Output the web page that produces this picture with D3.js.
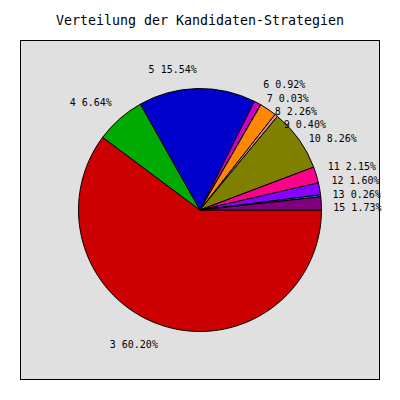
<!DOCTYPE html>
<html>
<head>
<meta charset="utf-8">
<script src="https://cdn.jsdelivr.net/npm/d3@7"></script>
<style>
  html, body { margin: 0; padding: 0; background: #ffffff; }
  svg { display: block; }
</style>
</head>
<body>
<div id="chart"></div>
<script>
const title = "Verteilung der Kandidaten-Strategien";
const categories = ["3", "4", "5", "6", "7", "8", "9", "10", "11", "12", "13", "15"];
const shares = [60.20, 6.64, 15.54, 0.92, 0.03, 2.26, 0.40, 8.26, 2.15, 1.60, 0.26, 1.73];
const colors = ["#cc0000", "#00aa00", "#0000cc", "#cc00cc", "#ffcc00", "#ff8800",
                "#e09090", "#808000", "#ff0088", "#8800ff", "#0090e0", "#800080"];

const W = 400, H = 400;
const cx = 200, cy = 210, radius = 121.5, labelR = 133.5;
const lineH = 15, gap = 13.3;

const svg = d3.select("#chart").append("svg")
  .attr("width", W).attr("height", H);

svg.append("rect")
  .attr("x", 20.5).attr("y", 40.5)
  .attr("width", 359).attr("height", 339)
  .attr("fill", "#e0e0e0").attr("stroke", "#000").attr("stroke-width", 1);

svg.append("text")
  .attr("x", 200).attr("y", 20)
  .attr("text-anchor", "middle").attr("dominant-baseline", "central")
  .attr("font-family", "DejaVu Sans Mono, monospace").attr("font-size", 13.3)
  .attr("fill", "#000")
  .text(title);

const data = categories.map((c, i) => ({ cat: c, value: shares[i], color: colors[i] }));

const pie = d3.pie().sort(null).value(d => d.value)
  .startAngle(Math.PI / 2).endAngle(Math.PI / 2 + 2 * Math.PI);
const arcs = pie(data);
const arc = d3.arc().innerRadius(0).outerRadius(radius);

const g = svg.append("g").attr("transform", `translate(${cx},${cy})`);
g.selectAll("path").data(arcs).enter().append("path")
  .attr("d", arc)
  .attr("fill", d => d.data.color)
  .attr("stroke", "#000").attr("stroke-width", 1).attr("stroke-linejoin", "round");

// label layout
const labels = arcs.map(d => {
  const mid = (d.startAngle + d.endAngle) / 2;      // d3: clockwise from 12 o'clock
  const sx = Math.sin(mid), sy = -Math.cos(mid);     // screen direction
  const px = cx + labelR * sx, py = cy + labelR * sy;
  // math angle (ccw from east)
  let a = Math.atan2(-sy, sx) * 180 / Math.PI;
  if (a < 0) a += 360;
  let dy;
  if (a <= 45) dy = 1 - a / 90;
  else if (a <= 135) dy = 1;
  else if (a <= 225) dy = 1 - (a - 135) / 90;
  else if (a <= 315) dy = 0;
  else dy = (a - 315) / 90;
  const y = py - dy * lineH + lineH / 2;
  return { d, x: px, y, right: sx >= 0, text: `${d.data.cat} ${d.data.value.toFixed(2)}%` };
});

function resolve(list) {
  list.sort((p, q) => p.y - q.y);
  for (let i = 1; i < list.length; i++) {
    if (list[i].y < list[i - 1].y + gap) list[i].y = list[i - 1].y + gap;
  }
}
resolve(labels.filter(l => l.right));
resolve(labels.filter(l => !l.right));

svg.append("g").selectAll("text").data(labels).enter().append("text")
  .attr("x", l => l.x).attr("y", l => l.y)
  .attr("text-anchor", l => l.right ? "start" : "end")
  .attr("dominant-baseline", "central")
  .attr("font-family", "DejaVu Sans Mono, monospace").attr("font-size", 10)
  .attr("fill", "#000")
  .text(l => l.text);
</script>
</body>
</html>
